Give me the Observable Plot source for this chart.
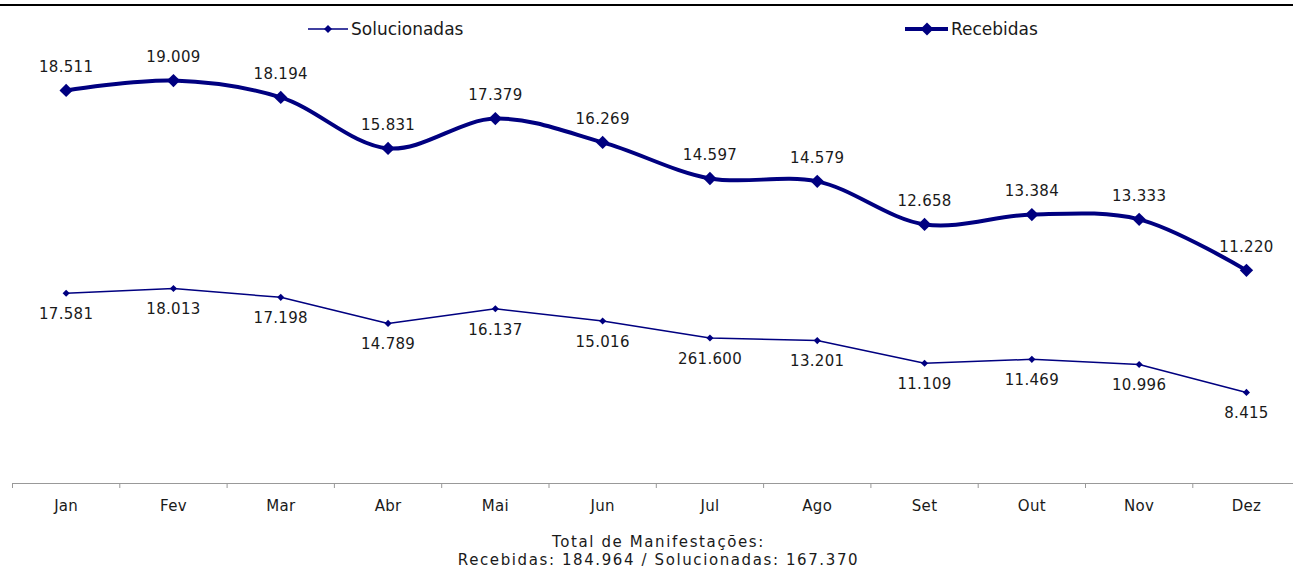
<!DOCTYPE html>
<html><head><meta charset="utf-8">
<script src="https://cdn.jsdelivr.net/npm/d3@7"></script>
<script src="https://cdn.jsdelivr.net/npm/@observablehq/plot@0.6"></script>
<style>
body{margin:0;background:#fff;font-family:"DejaVu Sans",sans-serif;}
#wrap{position:relative;width:1293px;height:568px;overflow:hidden;background:#fff;}
#topline{position:absolute;left:0;top:4px;width:1293px;height:2px;background:#000;}
.leg{position:absolute;top:17px;height:24px;display:flex;align-items:center;font-size:17px;color:#1a1a1a;white-space:nowrap;}
.leg svg{display:block;}
#chart{position:absolute;left:0;top:45px;}
#chart text{letter-spacing:0.3px;}
#caption{position:absolute;left:12px;width:1293px;top:533px;text-align:center;font-size:15px;line-height:18px;letter-spacing:1.6px;color:#1a1a1a;}
</style></head>
<body>
<div id="wrap">
  <div id="topline"></div>
  <div class="leg" style="left:308px"><svg width="42" height="12"><line x1="0" y1="6" x2="40" y2="6" stroke="#000080" stroke-width="1.5"/><path d="M20,2 L24,6 L20,10 L16,6Z" fill="#000080"/></svg><span style="margin-left:1px">Solucionadas</span></div>
  <div class="leg" style="left:905px"><svg width="45" height="16"><line x1="0" y1="8" x2="43" y2="8" stroke="#000080" stroke-width="4"/><path d="M22,1.5 L28.5,8 L22,14.5 L15.5,8Z" fill="#000080"/></svg><span style="margin-left:1px">Recebidas</span></div>
  <div id="chart"></div>
  <div id="caption"></div>
</div>
<script>
const months = ["Jan","Fev","Mar","Abr","Mai","Jun","Jul","Ago","Set","Out","Nov","Dez"];
// Recebidas (secondary axis), values as plotted
const recebidas = [18340, 18750, 18050, 15930, 17170, 16180, 14680, 14560, 12770, 13180, 12980, 10860];
const recebidasLabels = ["18.511","19.009","18.194","15.831","17.379","16.269","14.597","14.579","12.658","13.384","13.333","11.220"];
// Solucionadas (primary axis)
const solucionadas = [17581, 18013, 17198, 14789, 16137, 15016, 13446, 13201, 11109, 11469, 10996, 8415];
const solucionadasLabels = ["17.581","18.013","17.198","14.789","16.137","15.016","261.600","13.201","11.109","11.469","10.996","8.415"];
const captionLines = ["Total de Manifestações:", "Recebidas: 184.964 / Solucionadas: 167.370"];

const primaryDomain = [0, 40000];
const secondaryDomain = [2000, 20000];
const sec = v => (v - secondaryDomain[0]) / (secondaryDomain[1] - secondaryDomain[0]) * (primaryDomain[1] - primaryDomain[0]) + primaryDomain[0];

const data = months.map((m, i) => ({i, m, r: recebidas[i], rl: recebidasLabels[i], s: solucionadas[i], sl: solucionadasLabels[i]}));
const navy = "#000080";

const chart = Plot.plot({
  width: 1293,
  height: 478,
  marginTop: 5,
  marginBottom: 40,
  marginLeft: 12,
  marginRight: 0,
  style: {fontFamily: "DejaVu Sans, sans-serif", fontSize: "15px", color: "#1a1a1a", background: "white", overflow: "visible"},
  x: {type: "linear", domain: [-0.5, 11.5], range: [12, 1299.6], axis: null},
  y: {domain: primaryDomain, axis: null},
  marks: [
    Plot.ruleY([0], {stroke: "#999", strokeWidth: 1.2}),
    Plot.axisX({ticks: d3.range(-0.5, 12, 1), tickSize: 5, stroke: "#999", tickFormat: () => "", label: null}),
    Plot.axisX({ticks: d3.range(12), tickSize: 0, tickPadding: 17, tickFormat: i => months[i], fontSize: 15, fill: "#1a1a1a", label: null}),
    Plot.line(data, {x: "i", y: "s", stroke: navy, strokeWidth: 1.5}),
    Plot.dot(data, {x: "i", y: "s", symbol: "diamond2", r: 3.2, fill: navy}),
    Plot.text(data, {x: "i", y: "s", text: "sl", dy: 21, fontSize: 15, fill: "#1a1a1a"}),
    Plot.line(data, {x: "i", y: d => sec(d.r), stroke: navy, strokeWidth: 4, curve: "catmull-rom"}),
    Plot.dot(data, {x: "i", y: d => sec(d.r), symbol: "diamond2", r: 6, fill: navy}),
    Plot.text(data, {x: "i", y: d => sec(d.r), text: "rl", dy: -23, fontSize: 15, fill: "#1a1a1a"})
  ]
});
document.getElementById("chart").appendChild(chart);
document.getElementById("caption").innerHTML = captionLines.map(t => `<div>${t}</div>`).join("");
</script>
</body></html>
